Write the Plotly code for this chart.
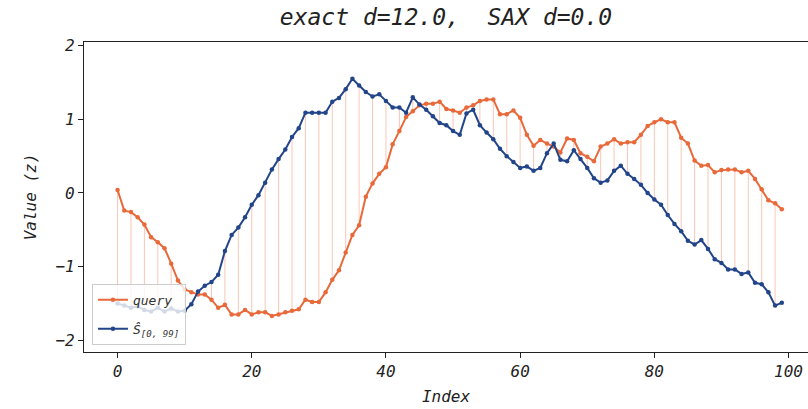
import plotly.graph_objects as go

# Index positions of the two series
index = list(range(100))

# z-normalised query series
query = [
    0.04, -0.24, -0.26, -0.33, -0.43, -0.60, -0.67, -0.75, -0.96, -1.19,
    -1.31, -1.35, -1.38, -1.38, -1.45, -1.56, -1.52, -1.65, -1.65, -1.59,
    -1.65, -1.62, -1.62, -1.67, -1.65, -1.62, -1.60, -1.58, -1.45, -1.48,
    -1.48, -1.35, -1.18, -1.05, -0.81, -0.57, -0.44, -0.05, 0.13, 0.26,
    0.35, 0.66, 0.84, 1.03, 1.11, 1.19, 1.21, 1.21, 1.24, 1.14,
    1.12, 1.09, 1.16, 1.19, 1.25, 1.27, 1.27, 1.07, 1.07, 1.12,
    1.02, 0.79, 0.64, 0.72, 0.67, 0.63, 0.55, 0.74, 0.72, 0.54,
    0.49, 0.43, 0.63, 0.67, 0.73, 0.67, 0.69, 0.69, 0.79, 0.91,
    0.96, 1.00, 0.96, 0.96, 0.75, 0.67, 0.44, 0.37, 0.38, 0.28,
    0.31, 0.32, 0.32, 0.28, 0.30, 0.19, 0.05, -0.10, -0.14, -0.22,
]

# Best-matching subsequence S[0, 99]
subseq = [
    -1.50, -1.53, -1.56, -1.54, -1.59, -1.61, -1.56, -1.61, -1.57, -1.61,
    -1.60, -1.51, -1.34, -1.26, -1.21, -1.11, -0.79, -0.57, -0.47, -0.33,
    -0.16, -0.03, 0.14, 0.32, 0.46, 0.59, 0.76, 0.88, 1.09, 1.09,
    1.09, 1.09, 1.24, 1.29, 1.41, 1.55, 1.46, 1.37, 1.31, 1.34,
    1.25, 1.16, 1.16, 1.09, 1.30, 1.20, 1.13, 1.04, 0.95, 0.92,
    0.84, 0.79, 1.08, 1.13, 0.92, 0.82, 0.73, 0.60, 0.50, 0.42,
    0.34, 0.36, 0.30, 0.34, 0.54, 0.67, 0.45, 0.43, 0.58, 0.46,
    0.34, 0.20, 0.14, 0.17, 0.30, 0.37, 0.26, 0.19, 0.11, 0.00,
    -0.09, -0.16, -0.30, -0.42, -0.52, -0.65, -0.70, -0.64, -0.76, -0.90,
    -0.95, -1.04, -1.04, -1.10, -1.08, -1.22, -1.24, -1.35, -1.53, -1.49,
]

title_text = "exact d=12.0,  SAX d=0.0"
x_label = "Index"
y_label = "Value (z)"
query_name = "query"
subseq_name = "Ŝ<sub>[0, 99]</sub>"

ORANGE = "#E8693A"
NAVY = "#22458A"
LINK = "rgba(238,130,95,0.45)"
FONT = "DejaVu Sans Mono"
INK = "#222222"

# Connector segments between the two series at every second index
link_x, link_y = [], []
for i in index[::2]:
    link_x += [i, i, None]
    link_y += [query[i], subseq[i], None]

fig = go.Figure()
fig.add_trace(go.Scatter(
    x=link_x, y=link_y, mode="lines",
    line=dict(color=LINK, width=1),
    hoverinfo="skip", showlegend=False,
))
fig.add_trace(go.Scatter(
    x=index, y=query, name=query_name, mode="lines+markers",
    legendgroup="q",
    line=dict(color=ORANGE, width=2), marker=dict(color=ORANGE, size=4.5),
))
fig.add_trace(go.Scatter(
    x=index, y=subseq, name=subseq_name, mode="lines+markers",
    legendgroup="s",
    line=dict(color=NAVY, width=2), marker=dict(color=NAVY, size=4.5),
))

axis_common = dict(
    showgrid=False, zeroline=False,
    showline=True, linecolor=INK, linewidth=1.2,
    ticks="outside", ticklen=5, tickwidth=1.2, tickcolor=INK,
    tickfont=dict(family=FONT, size=16, color=INK, style="italic"),
)

fig.update_layout(
    width=808, height=409,
    margin=dict(l=84, r=0, t=42, b=57),
    paper_bgcolor="white", plot_bgcolor="white",
    title=dict(
        text=title_text, x=0.5, xref="paper", xanchor="center",
        y=1 - 17 / 409, yanchor="middle",
        font=dict(family=FONT, size=23, color=INK, style="italic"),
    ),
    xaxis=dict(
        range=[-5.0, 102.9], tickvals=[0, 20, 40, 60, 80, 100], mirror=True,
        title=dict(text=x_label, standoff=10,
                   font=dict(family=FONT, size=16, color=INK, style="italic")),
        **axis_common,
    ),
    yaxis=dict(
        range=[-2.16, 2.05], tickvals=[-2, -1, 0, 1, 2],
        title=dict(text=y_label, standoff=14,
                   font=dict(family=FONT, size=16, color=INK, style="italic")),
        **axis_common,
    ),
    legend=dict(
        x=0.011, y=0.023, xanchor="left", yanchor="bottom",
        bgcolor="rgba(255,255,255,0.8)", bordercolor="#cccccc", borderwidth=1,
        font=dict(family=FONT, size=13, color="#333333", style="italic"),
        itemwidth=30, traceorder="grouped", tracegroupgap=9,
    ),
    showlegend=True,
)

fig.write_html("out.html")
